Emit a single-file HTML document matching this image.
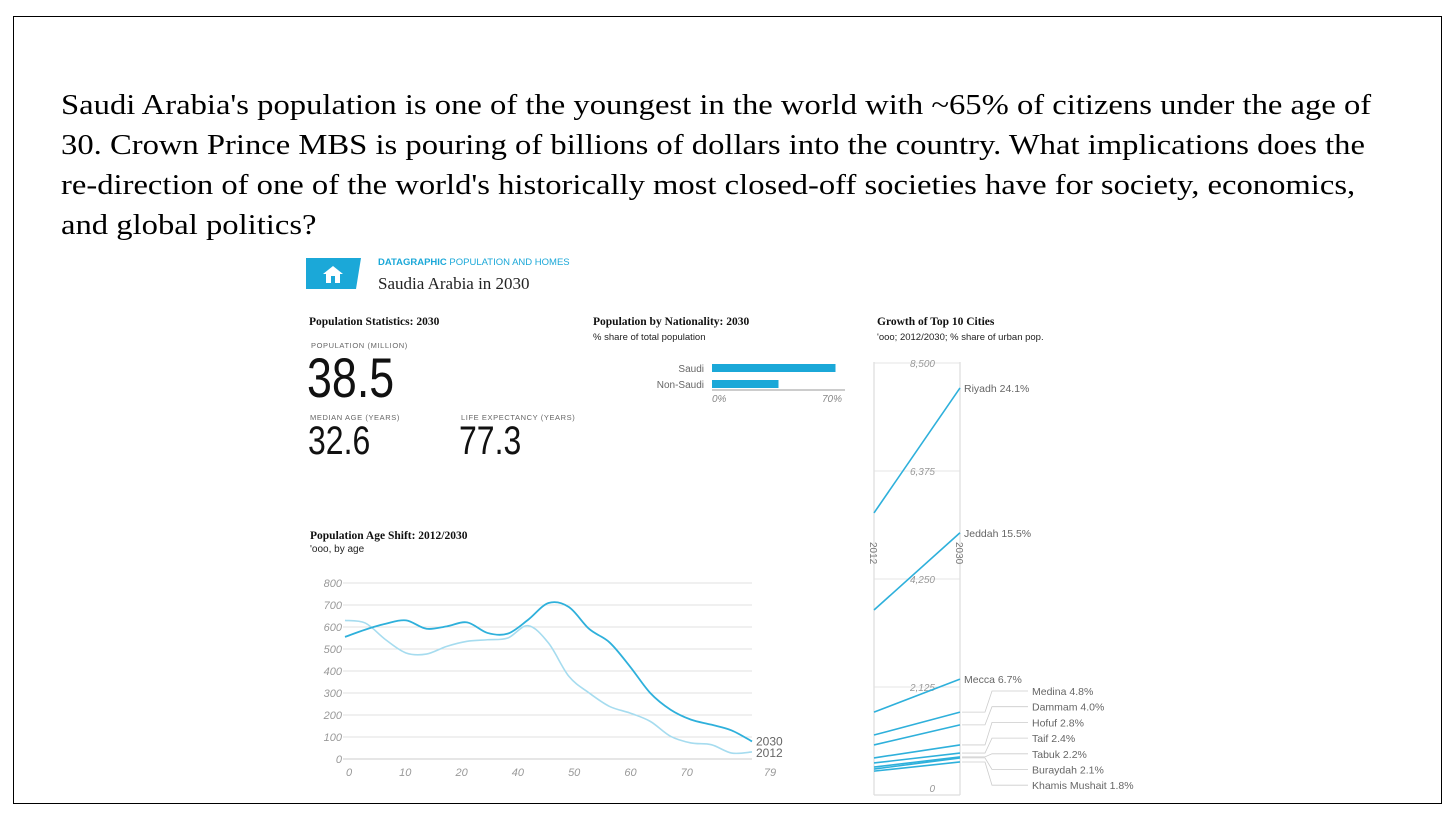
<!DOCTYPE html>
<html><head><meta charset="utf-8">
<style>
html,body{margin:0;padding:0;background:#fff;}
body{width:1456px;height:822px;position:relative;overflow:hidden;font-family:"Liberation Sans",sans-serif;}
#frame{position:absolute;left:13px;top:16px;width:1429px;height:788px;border:1.5px solid #000;box-sizing:border-box;}
.ln{position:absolute;left:61px;font-family:"Liberation Serif",serif;font-size:29px;color:#000;white-space:nowrap;line-height:1;transform-origin:0 0;transform:scaleX(1.125);}
svg{position:absolute;left:0;top:0;}
</style></head><body>
<div id="frame"></div>
<div class="ln" style="top:91px">Saudi Arabia's population is one of the youngest in the world with ~65% of citizens under the age of</div>
<div class="ln" style="top:131px">30. Crown Prince MBS is pouring of billions of dollars into the country. What implications does the</div>
<div class="ln" style="top:171px">re-direction of one of the world's historically most closed-off societies have for society, economics,</div>
<div class="ln" style="top:211px">and global politics?</div>

<svg id="g" width="1456" height="822" xmlns="http://www.w3.org/2000/svg">
  <g>
    <polygon points="306,258 361,258 356,289 306,289" fill="#1ba8d8"/>
    <path d="M333,266 L323,274 L326,274 L326,283 L340,283 L340,274 L343,274 Z" fill="#fff"/>
    <rect x="331" y="276" width="4" height="7" fill="#1ba8d8"/>
    <text x="378" y="265" font-size="9.5" fill="#1ba8d8" font-family="Liberation Sans"><tspan font-weight="bold">DATAGRAPHIC</tspan> POPULATION AND HOMES</text>
    <text x="378" y="289" font-size="17" fill="#222" font-family="Liberation Serif">Saudia Arabia in 2030</text>
  </g>
  <g font-family="Liberation Sans Narrow, Liberation Sans, sans-serif">
    <text x="309" y="325" font-size="11.5" font-weight="bold" font-family="Liberation Serif" fill="#111">Population Statistics: 2030</text>
    <text x="311" y="348" font-size="7.5" fill="#666" letter-spacing="0.6" font-family="Liberation Sans">POPULATION (MILLION)</text>
    <text x="307" y="397" font-size="56" fill="#111" transform="translate(307 397) scale(0.8 1) translate(-307 -397)">38.5</text>
    <text x="310" y="420" font-size="7.5" fill="#666" letter-spacing="0.6" font-family="Liberation Sans">MEDIAN AGE (YEARS)</text>
    <text x="308" y="454" font-size="40" fill="#111" transform="translate(308 454) scale(0.8 1) translate(-308 -454)">32.6</text>
    <text x="461" y="420" font-size="7.5" fill="#666" letter-spacing="0.6" font-family="Liberation Sans">LIFE EXPECTANCY (YEARS)</text>
    <text x="459" y="454" font-size="40" fill="#111" transform="translate(459 454) scale(0.8 1) translate(-459 -454)">77.3</text>
  </g>
  <g id="nat">
    <text x="593" y="325" font-size="11.5" font-weight="bold" font-family="Liberation Serif" fill="#111">Population by Nationality: 2030</text>
    <text x="593" y="340" font-size="9.5" fill="#222">% share of total population</text>
  </g>
  <g id="age">
    <text x="310" y="539" font-size="11.5" font-weight="bold" font-family="Liberation Serif" fill="#111">Population Age Shift: 2012/2030</text>
    <text x="310" y="552" font-size="10" fill="#222">'ooo, by age</text>
  </g>
  <g id="city">
    <text x="877" y="325" font-size="11.5" font-weight="bold" font-family="Liberation Serif" fill="#111">Growth of Top 10 Cities</text>
    <text x="877" y="340" font-size="9.5" fill="#222">'ooo; 2012/2030; % share of urban pop.</text>
  </g>
</svg>
<script>
// ---- Nationality data ----
const natCats = ["Saudi","Non-Saudi"];
const natVals = [65, 35];
const natTicks = ["0%","70%"];
const natTickVals = [0, 70];
// ---- Age shift data ----
const ages = [0,4,8,12,16,20,24,28,32,36,40,44,48,52,56,60,64,68,72,76,80];
const pop2030 = [555,588,615,630,592,603,621,573,570,633,709,691,591,530,421,300,224,179,156,130,80];
const pop2012 = [630,618,542,482,477,512,535,542,550,606,527,376,300,239,209,171,103,73,65,27,32];
const ageYTicks = [0,100,200,300,400,500,600,700,800];
const ageXTicks = ["0","10","20","40","50","60","70","79"];
// ---- Cities data ----
const cities = ["Riyadh","Jeddah","Mecca","Medina","Dammam","Hofuf","Taif","Tabuk","Buraydah","Khamis Mushait"];
const city2012 = [5550,3640,1630,1180,985,730,630,550,510,470];
const city2030 = [8010,5160,2280,1630,1380,985,825,750,730,650];
const cityShare = ["24.1%","15.5%","6.7%","4.8%","4.0%","2.8%","2.4%","2.2%","2.1%","1.8%"];
const cityTicks = [0,2125,4250,6375,8500];

const NS="http://www.w3.org/2000/svg";
function mk(parent,tag,attrs,txt){const e=document.createElementNS(NS,tag);for(const k in attrs)e.setAttribute(k,attrs[k]);if(txt!==undefined)e.textContent=txt;parent.appendChild(e);return e;}
const BLUE="#2eb0db", LIGHT="#a6dcef";

// Nationality chart
(function(){
  const g=document.getElementById('nat');
  const x=v=>712+v*1.9;
  mk(g,'line',{x1:712,x2:845,y1:390,y2:390,stroke:'#999','stroke-width':1});
  natCats.forEach((c,i)=>{
    const y=364+i*16;
    const r=mk(g,'rect',{x:x(0),y:y,width:x(natVals[i])-x(0),height:8,fill:'#1ba8d8'});
    
    
    const t=mk(g,'text',{x:704,y:y+8,'font-size':10,fill:'#666','text-anchor':'end'},c);
    
    
  });
  natTicks.forEach((l,i)=>{
    const t=mk(g,'text',{x:x(natTickVals[i])+(i?-3:0),y:402,'font-size':10,fill:'#888','font-style':'italic','text-anchor':i?'end':'start'},l);
    
    
  });
})();

// Age chart
(function(){
  const g=document.getElementById('age');
  const x0=345,x1=752;
  const x=a=>x0+(a-ages[0])/(ages[ages.length-1]-ages[0])*(x1-x0);
  const y=v=>759-v*0.22;
  ageYTicks.forEach(v=>{
    const l=mk(g,'line',{x1:343,x2:752,y1:y(v),y2:y(v),stroke:v?'#e2e2e2':'#ccc','stroke-width':1});
    
    
    const t=mk(g,'text',{x:342,y:y(v)+4,'font-size':11,fill:'#999','font-style':'italic','text-anchor':'end'},v);
    
    
  });
  ageXTicks.forEach((l,i)=>{
    const last=i===ageXTicks.length-1;
    const t=mk(g,'text',{x:last?770:349+i*56.3,y:776,'font-size':11,fill:'#999','font-style':'italic','text-anchor':'middle'},l);
    
    
  });
  function smooth(vals){
    const p=ages.map((a,i)=>[x(a),y(vals[i])]);
    let d='M'+p[0][0]+','+p[0][1];
    for(let i=0;i<p.length-1;i++){
      const a=p[i-1]||p[i],b=p[i],c=p[i+1],e=p[i+2]||c;
      d+=' C'+(b[0]+(c[0]-a[0])/6)+','+(b[1]+(c[1]-a[1])/6)+' '+(c[0]-(e[0]-b[0])/6)+','+(c[1]-(e[1]-b[1])/6)+' '+c[0]+','+c[1];
    }
    return d;
  }
  const l12=mk(g,'path',{d:smooth(pop2012),fill:'none',stroke:LIGHT,'stroke-width':1.6});
  
  
  const l30=mk(g,'path',{d:smooth(pop2030),fill:'none',stroke:BLUE,'stroke-width':1.8});
  
  
  const t1=mk(g,'text',{x:756,y:y(pop2030[pop2030.length-1])+4,'font-size':12,fill:'#666'},'2030');
  
  
  const t2=mk(g,'text',{x:756,y:y(pop2012[pop2012.length-1])+5,'font-size':12,fill:'#666'},'2012');
  
  
})();

// Cities chart
(function(){
  const g=document.getElementById('city');
  const xa=874,xb=960;
  const y=v=>795-v*432/8500;
  cityTicks.forEach(v=>{
    if(v>0){
      const l=mk(g,'line',{x1:xa,x2:xb,y1:y(v),y2:y(v),stroke:'#e6e6e6','stroke-width':1});
      
      
    }
    const t=mk(g,'text',{x:935,y:v?y(v)+4:y(v)-3,'font-size':10,fill:'#999','font-style':'italic','text-anchor':'end'},v.toLocaleString('en-US'));
    
    
  });
  mk(g,'line',{x1:xa,x2:xa,y1:362,y2:795,stroke:'#ddd','stroke-width':1.2});
  mk(g,'line',{x1:xb,x2:xb,y1:362,y2:795,stroke:'#ddd','stroke-width':1.2});
  mk(g,'line',{x1:xa,x2:xb,y1:795,y2:795,stroke:'#ddd','stroke-width':1.2});
  const a1=mk(g,'text',{x:0,y:0,'font-size':10,fill:'#777',transform:'translate(870,542) rotate(90)'},'2012');
  
  
  const a2=mk(g,'text',{x:0,y:0,'font-size':10,fill:'#777',transform:'translate(956,542) rotate(90)'},'2030');
  
  
  cities.forEach((c,i)=>{
    const l=mk(g,'line',{x1:xa,y1:y(city2012[i]),x2:xb,y2:y(city2030[i]),stroke:BLUE,'stroke-width':1.6});
    
    
    let lx,ly;
    if(i<3){lx=964;ly=y(city2030[i])+4;}
    else{
      lx=1032;ly=695+(i-3)*15.7;
      const ey=y(city2030[i]);
      mk(g,'path',{d:'M'+(xb+2)+','+ey+' L985,'+ey+' L992,'+(ly-4)+' L1028,'+(ly-4),fill:'none',stroke:'#ccc','stroke-width':0.8});
    }
    const t=mk(g,'text',{x:lx,y:ly,'font-size':10.5,fill:'#666'},c+' '+cityShare[i]);
    
    
  });
})();
</script>
</body></html>
